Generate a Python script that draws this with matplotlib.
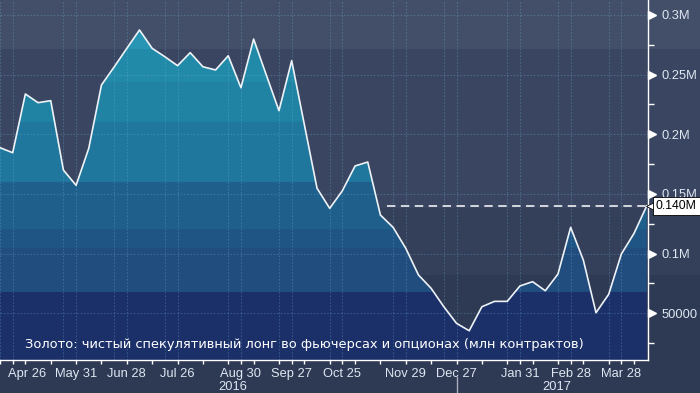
import numpy as np
import pandas as pd
import matplotlib
matplotlib.use('Agg')
import matplotlib.pyplot as plt
import matplotlib.dates as mdates
from matplotlib.patches import PathPatch
from matplotlib.transforms import offset_copy, ScaledTranslation

plt.rcParams['font.family'] = ['Liberation Sans', 'DejaVu Sans']

# ---------------- data ----------------
start_date = '2016-04-19'
net_long_k = [188.7, 184.5, 233.7, 226.4, 228.1, 170.0, 157.2, 188.2, 241.2, 256.3,
              271.9, 287.3, 271.9, 264.9, 257.4, 268.3, 256.5, 253.8, 265.7, 238.9,
              279.7, 249.6, 219.7, 261.6, 208.1, 154.7, 137.9, 152.7, 173.4, 176.7,
              132.3, 122.0, 104.4, 82.1, 70.9, 55.5, 41.6, 35.4, 55.5, 60.0,
              60.0, 72.9, 76.5, 68.9, 82.9, 122.0, 94.6, 50.5, 65.9, 99.7,
              117.0, 140.0]
x_label_dates = ['2016-04-26', '2016-05-31', '2016-06-28', '2016-07-26', '2016-08-30',
                 '2016-09-27', '2016-10-25', '2016-11-29', '2016-12-27', '2017-01-31',
                 '2017-02-28', '2017-03-28']
x_labels = ['Apr 26', 'May 31', 'Jun 28', 'Jul 26', 'Aug 30', 'Sep 27', 'Oct 25',
            'Nov 29', 'Dec 27', 'Jan 31', 'Feb 28', 'Mar 28']
year_labels = ['2016', '2017']
year_break = '2017-01-01'
year_sep_date = '2016-12-27'
y_ticks = [50000, 100000, 150000, 200000, 250000, 300000]
y_tick_labels = ['50000', '0.1M', '0.15M', '0.2M', '0.25M', '0.3M']
last_label = '0.140M'
caption = 'Золото: чистый спекулятивный лонг во фьючерсах и опционах (млн контрактов)'

# ---------------- style ----------------
W, H = 700, 393
y_min, y_max = 10900, 312400
fill_band_edges = [y_min, 67800, 105000, 121000, 160000, 210000, 244000, 271000, y_max]
fill_band_colors = ['#1b2f69', '#204c7e', '#1f5584', '#1e5f8c', '#1f779d',
                    '#2083a4', '#228aa9', '#2795b3']
bg_band_px = [0, 49, 208, 275, 393]
bg_band_colors = ['#434f69', '#3a4661', '#343f5a', '#2e3953']
txt_col = '#dfe7f2'
grid_col = (0.45, 0.70, 0.85, 0.30)

dates = pd.date_range(start_date, periods=len(net_long_k), freq='7D')
xd = mdates.date2num(dates)
vals = np.array(net_long_k) * 1000.0
lab_x = mdates.date2num(pd.to_datetime(x_label_dates))

fig = plt.figure(figsize=(W / 100, H / 100), dpi=100)
fig.patch.set_facecolor(bg_band_colors[-1])

# background bands across the whole figure
bg = fig.add_axes([0, 0, 1, 1])
bg.set_xlim(0, W)
bg.set_ylim(H, 0)
bg.axis('off')
for i, c in enumerate(bg_band_colors):
    bg.axhspan(bg_band_px[i], bg_band_px[i + 1], color=c, lw=0)

ax = fig.add_axes([0, 33 / H, 648 / W, 360 / H])
ax.set_zorder(2)
ax.set_facecolor('none')
ax.set_xlim(xd[0], xd[-1] + 0.7)
ax.set_ylim(y_min, y_max)

# area fill with banded colours, clipped to the area polygon
poly = ax.fill_between(xd, vals, y_min, color='none', lw=0)
clip = PathPatch(poly.get_paths()[0], transform=ax.transData, fc='none', ec='none')
ax.add_patch(clip)
for i, c in enumerate(fill_band_colors):
    r = ax.axhspan(fill_band_edges[i], fill_band_edges[i + 1], color=c, lw=0, zorder=1)
    r.set_clip_path(clip)

# grid
for y in y_ticks:
    ax.axhline(y, color=grid_col, lw=0.8, ls=(0, (1.5, 1.5)), zorder=2)
for x in lab_x:
    for xx in (x, x - 7):
        ax.axvline(xx, color=grid_col, lw=0.8, ls=(0, (1.5, 1.5)), zorder=2)

# line
ax.plot(xd, vals, color='#eef3f8', lw=1.2, zorder=4)

# dashed level line from last crossing
last = vals[-1]
idx = np.where(vals[:-1] >= last)[0]
k = idx[-1]
xc = xd[k] + (vals[k] - last) / (vals[k] - vals[k + 1]) * (xd[k + 1] - xd[k])
ax.plot([xc + 5, xd[-1] + 0.7], [last, last], color='white', lw=1.1,
        ls=(0, (5.5, 3.6)), zorder=4)

# spines
for s in ['top', 'left']:
    ax.spines[s].set_visible(False)
for s in ['right', 'bottom']:
    ax.spines[s].set_color('white')
    ax.spines[s].set_linewidth(1.0)

# y axis on right
ax.yaxis.tick_right()
ax.set_yticks(y_ticks)
ax.set_yticklabels(y_tick_labels)
ax.set_yticks(np.arange(25000, 300001, 50000), minor=True)
ax.tick_params(axis='y', which='major', length=0, pad=10, labelcolor=txt_col, labelsize=9.3)
ax.tick_params(axis='y', which='minor', length=4, width=1, color='white', direction='out')
tri_tr = offset_copy(ax.get_yaxis_transform(), fig=fig, x=4, y=0, units='dots')
ax.plot([1] * len(y_ticks), y_ticks, marker='>', ls='none', ms=6, color='white',
        mec='white', transform=tri_tr, clip_on=False, zorder=5)

# last value label
lab_tr = offset_copy(ax.get_yaxis_transform(), fig=fig, x=6, y=0, units='dots')
ax.plot([1], [last], marker='<', ls='none', ms=12, color='white', mec='black', mew=0.6,
        transform=lab_tr, clip_on=False, zorder=6)
ax.text(1, last, last_label, transform=offset_copy(ax.get_yaxis_transform(), fig=fig,
        x=8, y=0, units='dots'), ha='left', va='center', fontsize=8.8, color='black',
        bbox=dict(boxstyle='square,pad=0.22', fc='white', ec='black', lw=0.6),
        zorder=7, clip_on=False)

# x axis
ax.set_xticks(lab_x)
ax.set_xticklabels(x_labels)
ax.set_xticks(xd[::2], minor=True)
ax.tick_params(axis='x', which='both', length=3, width=1, color='white', direction='out',
               labelcolor=txt_col, labelsize=9.3, pad=3)
tl = ax.get_xticklabels()
tl[0].set_transform(tl[0].get_transform() + ScaledTranslation(10 / 72, 0, fig.dpi_scale_trans))

# year labels and separator
yb = mdates.date2num(pd.Timestamp(year_break))
x0, x1 = ax.get_xlim()
for lbl, xm in zip(year_labels, [(x0 + yb) / 2, (yb + x1) / 2]):
    ax.text(xm, -0.075, lbl, transform=ax.get_xaxis_transform(), ha='center',
            va='center', fontsize=9.3, color=txt_col)
xs = mdates.date2num(pd.Timestamp(year_sep_date))
ax.plot([xs, xs], [-0.046, -0.095], transform=ax.get_xaxis_transform(),
        color='#a7afbd', lw=1, clip_on=False)

# caption
ax.text(25 / 648, 0.042, caption, transform=ax.transAxes, ha='left', va='center',
        fontsize=9.35, color='white', zorder=6, family=['DejaVu Sans'])

fig.savefig('out.png', dpi=100, facecolor=fig.get_facecolor())
